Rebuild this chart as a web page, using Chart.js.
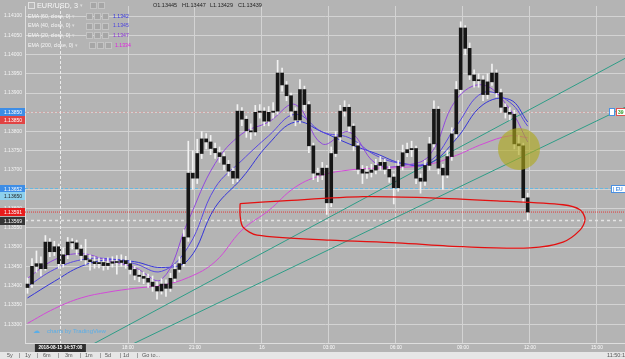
<!DOCTYPE html>
<html>
<head>
<meta charset="utf-8">
<script src="https://cdn.jsdelivr.net/npm/chart.js@4.4.1/dist/chart.umd.min.js"></script>
<style>
  html, body { margin: 0; padding: 0; background: #b4b4b4; overflow: hidden; }
  #wrap { position: relative; width: 625px; height: 359px; font-family: "Liberation Sans", Arial, sans-serif; }
  #chart { position: absolute; left: 0; top: 0; }
  .txt { position: absolute; white-space: nowrap; line-height: 1; }
  .ico { position: absolute; width: 5px; height: 5px; background: #a6a6a6; border: 1px solid #c4c4c4; }
  #toolbar { position: absolute; left: 0; top: 352px; width: 625px; height: 7px; background: #e6e6e6; overflow: hidden; }
  #toolbar span { position: absolute; top: 1px; font-size: 5.5px; color: #555; line-height: 1; }
</style>
</head>
<body>
<div id="wrap">
  <canvas id="chart" width="625" height="352"></canvas>

  <!-- legend / header -->
  <div class="ico" style="left:28px;top:2px;background:#b8b8b8;border-color:#e0e0e0"></div>
  <div class="txt" style="left:37px;top:2px;font-size:7.3px;color:#f6f6f6">EUR/USD, 3</div>
  <div class="txt" style="left:80px;top:3px;font-size:5px;color:#dcdcdc">▾</div>
  <div class="ico" style="left:90px;top:2px"></div>
  <div class="ico" style="left:98px;top:2px"></div>
  <div class="txt" style="left:153px;top:3px;font-size:5.5px;color:#1e1e1e">O1.13445</div>
  <div class="txt" style="left:182px;top:3px;font-size:5.5px;color:#1e1e1e">H1.13447</div>
  <div class="txt" style="left:210px;top:3px;font-size:5.5px;color:#1e1e1e">L1.13429</div>
  <div class="txt" style="left:238px;top:3px;font-size:5.5px;color:#1e1e1e">C1.13439</div>

  <div class="txt" style="left:28px;top:13.5px;font-size:5.2px;color:#f6f6f6">EMA (60, close, 0) <span style="color:#dcdcdc">▾</span></div>
  <div class="ico" style="left:86px;top:13px"></div><div class="ico" style="left:94px;top:13px"></div><div class="ico" style="left:102px;top:13px"></div>
  <div class="txt" style="left:113px;top:13.5px;font-size:5.2px;color:#2f2fe0">1.1342</div>

  <div class="txt" style="left:28px;top:23px;font-size:5.2px;color:#f6f6f6">EMA (40, close, 0) <span style="color:#dcdcdc">▾</span></div>
  <div class="ico" style="left:86px;top:22.5px"></div><div class="ico" style="left:94px;top:22.5px"></div><div class="ico" style="left:102px;top:22.5px"></div>
  <div class="txt" style="left:113px;top:23px;font-size:5.2px;color:#4a3ee0">1.1345</div>

  <div class="txt" style="left:28px;top:32.5px;font-size:5.2px;color:#f6f6f6">EMA (20, close, 0) <span style="color:#dcdcdc">▾</span></div>
  <div class="ico" style="left:86px;top:32px"></div><div class="ico" style="left:94px;top:32px"></div><div class="ico" style="left:102px;top:32px"></div>
  <div class="txt" style="left:113px;top:32.5px;font-size:5.2px;color:#8a30d8">1.1347</div>

  <div class="txt" style="left:28px;top:42.5px;font-size:5.2px;color:#f6f6f6">EMA (200, close, 0) <span style="color:#dcdcdc">▾</span></div>
  <div class="ico" style="left:89px;top:42px"></div><div class="ico" style="left:97px;top:42px"></div><div class="ico" style="left:105px;top:42px"></div>
  <div class="txt" style="left:115px;top:42.5px;font-size:5.2px;color:#e020e0">1.1334</div>

  <!-- watermark -->
  <div class="txt" style="left:33px;top:327px;font-size:7px;color:#5aaee8">☁</div>
  <div class="txt" style="left:47px;top:328px;font-size:6px;color:#5aaee8">charts by TradingView</div>

  <div id="toolbar">
    <span style="left:7px">5y</span><span style="left:19px">|</span>
    <span style="left:25px">1y</span><span style="left:37px">|</span>
    <span style="left:43px">6m</span><span style="left:58px">|</span>
    <span style="left:65px">3m</span><span style="left:80px">|</span>
    <span style="left:85px">1m</span><span style="left:100px">|</span>
    <span style="left:105px">5d</span><span style="left:120px">|</span>
    <span style="left:123px">1d</span><span style="left:137px">|</span>
    <span style="left:142px">Go to...</span>
    <span style="left:607px">11:50:1</span>
  </div>
</div>

<script>
// time axis is in hours counted from 2018-08-15 00:00
const xMin = 13.387;
const xMax = 40.257;
const yMin = 1.13251;
const yMax = 1.14126;

const tickHours = [18, 21, 24, 27, 30, 33, 36, 39];
const tickLabels = ["18:00", "21:00", "16", "03:00", "06:00", "09:00", "12:00", "15:00"];
const priceTicks = [1.133, 1.1335, 1.134, 1.1345, 1.135, 1.1355, 1.136, 1.1365, 1.137,
  1.1375, 1.138, 1.1385, 1.139, 1.1395, 1.14, 1.1405, 1.141];

// candles (12-minute steps)
const firstCandleHour = 13.5;
const candleStepHours = 0.2;
const firstOpen = 1.13395;
const closes = [
  1.13404, 1.13450, 1.13457, 1.13444, 1.13513, 1.13488, 1.13501, 1.13457, 1.13480, 1.13513,
  1.13511, 1.13495, 1.13478, 1.13467, 1.13462, 1.13457, 1.13460, 1.13452, 1.13458, 1.13462,
  1.13460, 1.13465, 1.13457, 1.13442, 1.13427, 1.13424, 1.13419, 1.13409, 1.13398, 1.13386,
  1.13404, 1.13393, 1.13419, 1.13442, 1.13457, 1.13526, 1.13692, 1.13679, 1.13743, 1.13781,
  1.13773, 1.13756, 1.13745, 1.13735, 1.13715, 1.13697, 1.13679, 1.13853, 1.13832, 1.13802,
  1.13799, 1.13850, 1.13853, 1.13827, 1.13850, 1.13853, 1.13952, 1.13921, 1.13893, 1.13853,
  1.13830, 1.13909, 1.13870, 1.13763, 1.13692, 1.13687, 1.13705, 1.13615, 1.13743, 1.13786,
  1.13853, 1.13863, 1.13814, 1.13763, 1.13702, 1.13692, 1.13694, 1.13700, 1.13712, 1.13720,
  1.13702, 1.13682, 1.13654, 1.13710, 1.13745, 1.13753, 1.13756, 1.13679, 1.13671, 1.13712,
  1.13768, 1.13858, 1.13705, 1.13687, 1.13735, 1.13794, 1.13909, 1.14069, 1.14016, 1.13947,
  1.13932, 1.13934, 1.13896, 1.13929, 1.13952, 1.13901, 1.13863, 1.13850, 1.13845, 1.13768,
  1.13763, 1.13628, 1.13591
];
const highs = [
  1.13420, 1.13470, 1.13490, 1.13475, 1.13530, 1.13522, 1.13515, 1.13508, 1.13498, 1.13525,
  1.13522, 1.13518, 1.13505, 1.13520, 1.13480, 1.13475, 1.13472, 1.13470, 1.13472, 1.13475,
  1.13478, 1.13480, 1.13476, 1.13465, 1.13450, 1.13440, 1.13435, 1.13430, 1.13425, 1.13410,
  1.13418, 1.13415, 1.13432, 1.13455, 1.13475, 1.13545, 1.13775, 1.13750, 1.13780, 1.13800,
  1.13795, 1.13790, 1.13770, 1.13760, 1.13745, 1.13725, 1.13705, 1.13870, 1.13862, 1.13840,
  1.13820, 1.13868, 1.13870, 1.13862, 1.13865, 1.13875, 1.13985, 1.13965, 1.13930, 1.13900,
  1.13862, 1.13935, 1.13918, 1.13878, 1.13770, 1.13705, 1.13720, 1.13712, 1.13760, 1.13800,
  1.13868, 1.13880, 1.13870, 1.13820, 1.13770, 1.13712, 1.13710, 1.13715, 1.13728, 1.13735,
  1.13728, 1.13710, 1.13690, 1.13725, 1.13765, 1.13770, 1.13775, 1.13762, 1.13690, 1.13725,
  1.13785, 1.13880, 1.13865, 1.13715, 1.13750, 1.13810, 1.13930, 1.14085, 1.14075, 1.14030,
  1.13960, 1.13950, 1.13945, 1.13950, 1.13975, 1.13960, 1.13910, 1.13872, 1.13862, 1.13855,
  1.13790, 1.13770, 1.13640
];
const lows = [
  1.13380, 1.13395, 1.13435, 1.13425, 1.13440, 1.13475, 1.13478, 1.13445, 1.13448, 1.13470,
  1.13495, 1.13480, 1.13465, 1.13455, 1.13440, 1.13445, 1.13446, 1.13440, 1.13442, 1.13448,
  1.13430, 1.13450, 1.13445, 1.13430, 1.13415, 1.13410, 1.13405, 1.13395, 1.13385, 1.13365,
  1.13378, 1.13372, 1.13385, 1.13410, 1.13435, 1.13450, 1.13515, 1.13650, 1.13665, 1.13730,
  1.13755, 1.13740, 1.13730, 1.13720, 1.13700, 1.13685, 1.13665, 1.13670, 1.13815, 1.13785,
  1.13780, 1.13790, 1.13835, 1.13815, 1.13815, 1.13835, 1.13845, 1.13905, 1.13880, 1.13840,
  1.13815, 1.13822, 1.13855, 1.13745, 1.13675, 1.13670, 1.13675, 1.13585, 1.13605, 1.13735,
  1.13775, 1.13840, 1.13800, 1.13750, 1.13690, 1.13665, 1.13678, 1.13682, 1.13690, 1.13700,
  1.13690, 1.13668, 1.13612, 1.13645, 1.13700, 1.13735, 1.13735, 1.13665, 1.13640, 1.13660,
  1.13700, 1.13760, 1.13690, 1.13650, 1.13680, 1.13725, 1.13785, 1.13900, 1.14000, 1.13935,
  1.13915, 1.13915, 1.13880, 1.13885, 1.13920, 1.13890, 1.13850, 1.13835, 1.13830, 1.13755,
  1.13740, 1.13615, 1.13570
];

// moving averages as drawn on the chart
const emaHours = [13.5, 14.7, 15.9, 17.1, 18.3, 19.5, 20.7, 21.9, 23.1, 24.3,
  25.5, 26.7, 27.9, 29.1, 30.3, 31.5, 32.7, 33.9, 35.1, 35.9];
const ema60 = [1.13368, 1.13411, 1.13450, 1.13467, 1.13462, 1.13447, 1.13467, 1.13603, 1.13679, 1.13768,
  1.13825, 1.13799, 1.13768, 1.13743, 1.13717, 1.13717, 1.13781, 1.13870, 1.13883, 1.13825];
const ema40 = [1.13398, 1.13442, 1.13467, 1.13470, 1.13457, 1.13437, 1.13501, 1.13654, 1.13725, 1.13789,
  1.13845, 1.13799, 1.13784, 1.13738, 1.13717, 1.13722, 1.13814, 1.13901, 1.13876, 1.13814];
const ema20 = [1.13419, 1.13467, 1.13483, 1.13465, 1.13447, 1.13416, 1.13569, 1.13717, 1.13794, 1.13825,
  1.13870, 1.13768, 1.13799, 1.13717, 1.13712, 1.13738, 1.13883, 1.13921, 1.13858, 1.13773];
const ema200 = [1.13302, 1.13340, 1.13368, 1.13383, 1.13393, 1.13401, 1.13421, 1.13462, 1.13544, 1.13595,
  1.13656, 1.13687, 1.13700, 1.13705, 1.13707, 1.13715, 1.13738, 1.13768, 1.13789, 1.13784];

// drawings
const trendUpperHours = [15.851, 40.257];
const trendUpperPrices = [1.13230, 1.13990];
const trendLowerHours = [18.09, 40.257];
const trendLowerPrices = [1.13245, 1.13863];
const loopHours = [23.02, 24.94, 28.52, 31.52, 34.52, 37.48, 38.24, 38.47, 38.24, 37.48,
  36.00, 33.00, 30.05, 27.05, 23.78, 23.15, 23.02, 23.02];
const loopPrices = [1.13613, 1.13620, 1.13631, 1.13628, 1.13620, 1.13610, 1.13597, 1.13572, 1.13544, 1.13513,
  1.13498, 1.13501, 1.13511, 1.13518, 1.13531, 1.13552, 1.13582, 1.13613];
const markHour = 35.51;
const markPrice = 1.13755;
const crosshairHour = 14.95;

const levelPrices = [1.13850, 1.13652, 1.13591, 1.13569];
const levelStyles = [
  { color: "#cf9a9a", dash: [2, 2], width: 1 },
  { color: "#63b7e2", dash: [3, 2], width: 1 },
  { color: "#e23a3a", dash: [1, 1], width: 1 },
  { color: "#e4e4e4", dash: [3, 3], width: 1.5 },
];

const priceTags = [
  { price: 1.13850, text: "1.13850", bg: "#3d8de6", fg: "#ffffff", shift: 0 },
  { price: 1.13850, text: "1.13850", bg: "#e24444", fg: "#ffffff", shift: 8 },
  { price: 1.13652, text: "1.13652", bg: "#3d8de6", fg: "#ffffff", shift: 0 },
  { price: 1.13650, text: "1.13650", bg: "#8dd0ec", fg: "#1e1e1e", shift: 7 },
  { price: 1.13591, text: "1.13591", bg: "#e81c1c", fg: "#ffffff", shift: 0 },
  { price: 1.13569, text: "1.13569", bg: "#363636", fg: "#ffffff", shift: 0 },
];

const candleHours = closes.map((_, i) => firstCandleHour + i * candleStepHours);
const opens = closes.map((c, i) => (i === 0 ? firstOpen : closes[i - 1]));

function pairs(xs, ys) {
  return xs.map((x, i) => ({ x, y: ys[i] }));
}

function emaDataset(values, color, order) {
  return {
    type: "line",
    data: pairs(emaHours, values),
    borderColor: color,
    borderWidth: 1,
    pointRadius: 0,
    tension: 0.4,
    order,
  };
}

const overlayPlugin = {
  id: "overlay",
  afterDatasetsDraw(chart) {
    const { ctx, chartArea, scales } = chart;
    const cx = Math.round(scales.x.getPixelForValue(crosshairHour)) + 0.5;
    ctx.save();
    ctx.strokeStyle = "#ececec";
    ctx.lineWidth = 1;
    ctx.setLineDash([3, 2]);
    ctx.beginPath();
    ctx.moveTo(cx, chartArea.top);
    ctx.lineTo(cx, chartArea.bottom);
    ctx.stroke();
    ctx.restore();
  },
  afterDraw(chart) {
    const { ctx, chartArea, scales } = chart;
    ctx.save();
    ctx.font = "5px 'Liberation Sans', Arial, sans-serif";
    ctx.textBaseline = "middle";
    ctx.textAlign = "right";
    priceTags.forEach((tag) => {
      const py = Math.round(scales.y.getPixelForValue(tag.price)) + tag.shift;
      ctx.fillStyle = tag.bg;
      ctx.fillRect(0, py - 4, chartArea.left, 8);
      ctx.fillStyle = tag.fg;
      ctx.fillText(tag.text, chartArea.left - 3, py + 0.5);
    });

    // partial labels of the right-hand price scale
    const y1 = Math.round(scales.y.getPixelForValue(levelPrices[0]));
    ctx.fillStyle = "#ffffff";
    ctx.strokeStyle = "#4a90e2";
    ctx.fillRect(609.5, y1 - 3.5, 5, 7);
    ctx.strokeRect(609.5, y1 - 3.5, 5, 7);
    ctx.strokeStyle = "#e05050";
    ctx.fillRect(616.5, y1 - 3.5, 12, 7);
    ctx.strokeRect(616.5, y1 - 3.5, 12, 7);
    ctx.fillStyle = "#2d9a2d";
    ctx.textAlign = "left";
    ctx.font = "bold 5px 'Liberation Sans', Arial, sans-serif";
    ctx.fillText("39", 618, y1 + 0.5);
    const y2 = Math.round(scales.y.getPixelForValue(levelPrices[1]));
    ctx.fillStyle = "#ffffff";
    ctx.strokeStyle = "#4a90e2";
    ctx.fillRect(611.5, y2 - 3.5, 16, 7);
    ctx.strokeRect(611.5, y2 - 3.5, 16, 7);
    ctx.fillStyle = "#4a90e2";
    ctx.fillText("| EU", 613, y2 + 0.5);

    // crosshair time label
    const cx = scales.x.getPixelForValue(crosshairHour);
    ctx.fillStyle = "#2e2e2e";
    ctx.fillRect(cx - 25, chartArea.bottom + 1, 51, 8);
    ctx.fillStyle = "#ffffff";
    ctx.textAlign = "center";
    ctx.font = "bold 4.7px 'Liberation Sans', Arial, sans-serif";
    ctx.fillText("2018-08-15 14:57:00", cx + 0.5, chartArea.bottom + 5);
    ctx.restore();
  },
};

const levelDatasets = levelPrices.map((price, i) => ({
  type: "line",
  data: [{ x: xMin, y: price }, { x: xMax, y: price }],
  borderColor: levelStyles[i].color,
  borderDash: levelStyles[i].dash,
  borderWidth: levelStyles[i].width,
  pointRadius: 0,
  order: 12,
}));

new Chart(document.getElementById("chart"), {
  type: "bar",
  data: {
    datasets: [
      ...levelDatasets,
      {
        type: "line",
        data: pairs(trendUpperHours, trendUpperPrices),
        borderColor: "#2e9d87",
        borderWidth: 1,
        pointRadius: 0,
        order: 10,
      },
      {
        type: "line",
        data: pairs(trendLowerHours, trendLowerPrices),
        borderColor: "#2e9d87",
        borderWidth: 1,
        pointRadius: 0,
        order: 10,
      },
      emaDataset(ema200, "#d24ad8", 9),
      emaDataset(ema60, "#3535d8", 8),
      emaDataset(ema40, "#5a48e0", 7),
      emaDataset(ema20, "#9048dc", 6),
      {
        label: "wicks",
        data: candleHours.map((x, i) => ({ x, y: [lows[i], highs[i]] })),
        backgroundColor: "#f2f2f2",
        barThickness: 1,
        grouped: false,
        order: 5,
      },
      {
        label: "bodies",
        data: candleHours.map((x, i) => ({ x, y: [opens[i], closes[i]] })),
        backgroundColor: "#161616",
        barThickness: 3,
        minBarLength: 1,
        grouped: false,
        order: 4,
      },
      {
        type: "line",
        data: pairs(loopHours, loopPrices),
        borderColor: "#e41010",
        borderWidth: 1.3,
        pointRadius: 0,
        tension: 0.3,
        order: 2,
      },
      {
        type: "bubble",
        data: [{ x: markHour, y: markPrice, r: 21 }],
        backgroundColor: "rgba(176, 170, 28, 0.62)",
        borderWidth: 0,
        order: 1,
      },
    ],
  },
  options: {
    responsive: false,
    animation: false,
    events: [],
    layout: { padding: 0, autoPadding: false },
    plugins: {
      legend: { display: false },
      tooltip: { enabled: false },
    },
    scales: {
      x: {
        type: "linear",
        position: "bottom",
        min: xMin,
        max: xMax,
        offset: false,
        afterBuildTicks: (scale) => {
          scale.ticks = tickHours.map((value) => ({ value }));
        },
        afterFit: (scale) => {
          scale.height = 9;
        },
        grid: { color: "#d3d3d3", drawTicks: false, offset: false },
        border: { color: "#dedede" },
        ticks: {
          color: "#fafafa",
          padding: 2,
          autoSkip: false,
          maxRotation: 0,
          font: { size: 4.8, family: "'Liberation Sans', Arial, sans-serif" },
          callback: (value, index) => tickLabels[index],
        },
      },
      y: {
        type: "linear",
        position: "left",
        min: yMin,
        max: yMax,
        afterBuildTicks: (scale) => {
          scale.ticks = priceTicks.map((value) => ({ value }));
        },
        afterFit: (scale) => {
          scale.width = 25;
        },
        grid: { color: "#d3d3d3", drawTicks: false },
        border: { color: "#dedede" },
        ticks: {
          color: "#f4f4f4",
          padding: 3,
          font: { size: 5, family: "'Liberation Sans', Arial, sans-serif" },
          callback: (value) => value.toFixed(5),
        },
      },
    },
  },
  plugins: [overlayPlugin],
});
</script>
</body>
</html>
